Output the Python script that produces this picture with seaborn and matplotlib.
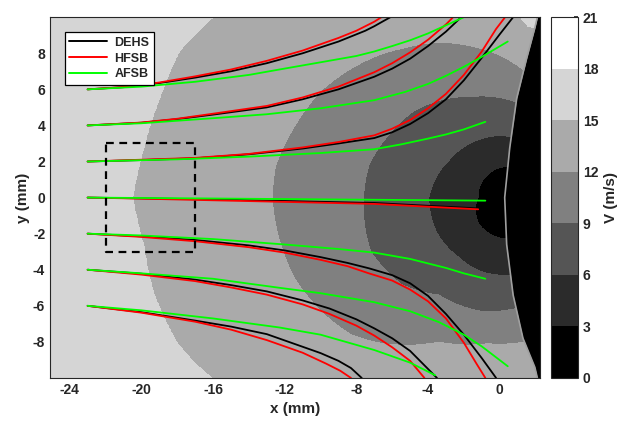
import numpy as np
import pandas as pd
import matplotlib
matplotlib.use("Agg")
import matplotlib.pyplot as plt
import seaborn as sns
from matplotlib.lines import Line2D

# ---------------- data ----------------
levels = [0, 3, 6, 9, 12, 15, 18, 21]
band_colors = ['#000000', '#2b2b2b', '#555555', '#808080', '#aaaaaa', '#d5d5d5', '#ffffff']
cbar_ticks = [0, 3, 6, 9, 12, 15, 18, 21]
x_ticks = [-24, -20, -16, -12, -8, -4, 0]
y_ticks = [-8, -6, -4, -2, 0, 2, 4, 6, 8]

# nose of the body (stagnation point)
nose = (0.3, 0.0)
# body front edge
edge_y = [-10.2, -9.4, -7.8, -5.4, -2.6, 0.0, 2.75, 5.5, 7.7, 9.4, 10.2]
edge_x = [2.15, 1.96, 1.3, 0.75, 0.39, 0.28, 0.56, 0.95, 1.5, 1.96, 2.15]

# contour boundaries (x, y) of V = 3, 6, 9, 12, 15 m/s
b3_x = [0.4, -0.15, -1.15, -1.2, -0.75, 0.2, 0.4]
b3_y = [-2.3, -2.2, -1.5, 0.0, 1.2, 1.7, 1.75]
b6_x = [0.6, -1.05, -2.3, -3.45, -3.95, -2.8, -1.2, 0.5]
b6_y = [-4.3, -4.1, -3.3, -2.05, 0.0, 2.1, 3.2, 3.4]
b9_x = [1.1, -1.05, -3.4, -5.5, -7.2, -7.6, -7.3, -6.0, -4.8, -1.6, 0.9]
b9_y = [-6.1, -6.3, -5.4, -4.8, -3.0, 0.0, 1.8, 3.7, 4.8, 5.6, 5.3]
b12_x = [1.4, -0.7, -3.4, -7.0, -8.3, -10.0, -11.5, -12.4, -12.7, -12.5, -11.6, -10.0, -7.0, -5.3, -3.4, -1.6, 0.2, 1.3]
b12_y = [-8.0, -8.1, -8.0, -8.0, -7.6, -6.3, -4.4, -2.0, 0.0, 1.8, 3.7, 5.9, 7.8, 8.3, 8.6, 8.4, 7.8, 7.1]
b15_x = [1.6, 0.0, -6.0, -13.5, -16.1, -17.1, -18.0, -19.3, -19.9, -20.5, -19.9, -19.0, -17.9, -17.0, -16.0, -13.5, -6.0, 0.0, 1.6]
b15_y = [-10.5, -11.0, -14.0, -12.0, -10.0, -9.1, -8.1, -5.4, -2.6, 0.0, 2.7, 5.5, 8.1, 9.1, 10.0, 12.0, 14.0, 11.0, 9.5]

# streamlines: DEHS (black), HFSB (red), AFSB (green)
dehs = {
    '6':  ([-23, -21, -19, -17, -15, -13, -11, -9, -8, -7.5, -7, -6.5, -6.1],
           [6.0, 6.12, 6.35, 6.65, 7.0, 7.45, 8.0, 8.65, 9.05, 9.25, 9.5, 9.78, 10.0]),
    '4':  ([-23, -20, -18, -16, -13, -11, -9, -7, -6, -5, -4, -3, -2.15],
           [4.0, 4.15, 4.35, 4.6, 5.0, 5.45, 6.0, 6.7, 7.15, 7.7, 8.4, 9.2, 10.0]),
    '2':  ([-23, -20, -17, -14, -11, -9, -7, -6, -5, -4, -3, -2, -1, 0, 0.75],
           [2.0, 2.08, 2.18, 2.4, 2.72, 3.0, 3.3, 3.62, 4.08, 4.68, 5.45, 6.5, 7.75, 9.05, 10.0]),
    '0':  ([-23, -16.0, -7.0, -1.2], [0.0, -0.1, -0.3, -0.6]),
    '-2': ([-23, -20, -17, -14, -12, -10, -8.5, -7.3, -6, -5, -4, -3, -2, -1, -0.2],
           [-2.0, -2.15, -2.35, -2.65, -2.93, -3.3, -3.62, -3.92, -4.3, -4.75, -5.45, -6.45, -7.6, -8.9, -10.0]),
    '-4': ([-23, -20, -17, -15, -13, -11, -9.5, -8, -7, -6, -5, -4.2, -3.5],
           [-4.0, -4.22, -4.55, -4.85, -5.2, -5.7, -6.15, -6.75, -7.25, -7.8, -8.5, -9.3, -10.0]),
    '-6': ([-23, -20, -17, -15, -13, -11, -10, -9, -8.3, -7.7],
           [-6.0, -6.35, -6.82, -7.15, -7.57, -8.27, -8.62, -9.05, -9.45, -10.0]),
}
hfsb = {
    '6':  ([-23, -21, -19, -17, -15, -13, -11, -9, -8, -7.5, -7, -6.6],
           [6.0, 6.13, 6.38, 6.72, 7.1, 7.58, 8.15, 8.85, 9.25, 9.5, 9.75, 10.0]),
    '4':  ([-23, -20, -18, -16, -13, -11, -9, -7, -6, -5, -4, -3, -2.6],
           [4.0, 4.16, 4.37, 4.65, 5.08, 5.55, 6.15, 6.95, 7.45, 8.05, 8.75, 9.6, 10.0]),
    '2':  ([-23, -20, -17, -14, -11, -9, -7, -6, -5, -4, -3, -2, -1, -0.2, 0.3],
           [2.0, 2.1, 2.2, 2.42, 2.78, 3.08, 3.45, 3.82, 4.3, 4.95, 5.75, 6.8, 8.1, 9.35, 10.0]),
    '0':  ([-23, -20.4, -16.0, -7.0, -1.2], [0.0, -0.05, -0.15, -0.35, -0.65]),
    '-2': ([-23, -20, -17, -14, -12, -10, -8.5, -7.3, -6, -5, -4, -3, -2, -1.3, -0.8],
           [-2.0, -2.18, -2.42, -2.75, -3.05, -3.45, -3.8, -4.2, -4.6, -5.1, -5.75, -6.7, -8.05, -9.2, -10.0]),
    '-4': ([-23, -20, -17, -15, -13, -11, -9.5, -8, -7, -6, -5, -4.2],
           [-4.0, -4.27, -4.63, -4.98, -5.38, -5.92, -6.45, -7.1, -7.65, -8.3, -9.05, -10.0]),
    '-6': ([-23, -20, -17, -15, -13, -11, -9.7, -8.9, -8.3],
           [-6.0, -6.38, -6.88, -7.32, -7.9, -8.6, -9.2, -9.6, -10.0]),
}
afsb = {
    '6':  ([-23, -20, -17, -14, -12.3, -10, -8, -7, -6, -5, -4, -3, -2.0],
           [6.0, 6.15, 6.42, 6.8, 7.1, 7.5, 7.85, 8.1, 8.4, 8.72, 9.1, 9.55, 10.0]),
    '4':  ([-23, -20, -16, -13, -10, -7, -5.3, -4, -3, -2, -1, 0.45],
           [4.0, 4.12, 4.4, 4.62, 4.95, 5.4, 5.85, 6.3, 6.75, 7.25, 7.8, 8.65]),
    '2':  ([-23, -18, -14, -10, -7, -5.5, -4, -3, -2, -0.8],
           [2.0, 2.12, 2.27, 2.47, 2.68, 2.95, 3.27, 3.5, 3.78, 4.2]),
    '0':  ([-23, -16.0, -7.0, -0.8], [0.0, -0.05, -0.12, -0.17]),
    '-2': ([-23, -20, -16, -12, -9, -7, -5, -4, -3, -2, -0.8],
           [-2.0, -2.1, -2.3, -2.6, -2.85, -3.05, -3.4, -3.65, -3.9, -4.2, -4.5]),
    '-4': ([-23, -20, -16, -12.3, -10, -7, -5, -3.4, -2, -1, 0.45],
           [-4.0, -4.2, -4.5, -5.0, -5.3, -5.8, -6.3, -6.9, -7.6, -8.25, -9.35]),
    '-6': ([-23, -20, -16, -12.3, -10, -7, -5, -3.6],
           [-6.0, -6.25, -6.7, -7.2, -7.6, -8.45, -9.15, -9.85]),
}
series_names = ['DEHS', 'HFSB', 'AFSB']
series_colors = ['#000000', '#ff0000', '#00ff00']

rect_x = [-22, -17, -17, -22, -22]
rect_y = [3, 3, -3, -3, 3]

# ---------------- build the velocity field from the boundaries ----------------
xg = np.linspace(-25.2, 2.3, 700)
yg = np.linspace(-10.1, 10.1, 520)
X, Y = np.meshgrid(xg, yg)
TH = np.degrees(np.arctan2(Y - nose[1], -(X - nose[0])))
R = np.hypot(X - nose[0], Y - nose[1])


def radius_at(bx, by, th):
    bx = np.asarray(bx, float); by = np.asarray(by, float)
    t = np.degrees(np.arctan2(by - nose[1], -(bx - nose[0])))
    r = np.hypot(bx - nose[0], by - nose[1])
    o = np.argsort(t)
    return np.interp(th, t[o], r[o])


radii = [np.zeros_like(R)] + [radius_at(bx, by, TH) for bx, by in
                              [(b3_x, b3_y), (b6_x, b6_y), (b9_x, b9_y), (b12_x, b12_y), (b15_x, b15_y)]]
V = np.full(R.shape, 16.5)
for i in range(4, -1, -1):
    m = R < radii[i + 1]
    V[m] = levels[i] + 3 * (R[m] - radii[i][m]) / (radii[i + 1][m] - radii[i][m])
V = np.clip(V, 0, 20.9)

# ---------------- plot ----------------
sns.set_theme(style="ticks")
plt.rcParams['font.family'] = ['Liberation Sans', 'DejaVu Sans']
plt.rcParams['font.weight'] = 'bold'
plt.rcParams['axes.labelweight'] = 'bold'
plt.rcParams['axes.unicode_minus'] = False

fig = plt.figure(figsize=(6.25, 4.3), dpi=100)
ax = fig.add_axes([0.08, 0.121, 0.784, 0.839])
cax = fig.add_axes([0.8816, 0.121, 0.0432, 0.839])

cs = ax.contourf(X, Y, V, levels=levels, colors=band_colors)
ax.fill_betweenx(edge_y, edge_x, 3.0, color='black', lw=0)
ax.plot(edge_x, edge_y, color='#a0a0a0', lw=1.2)

for name, color, d in zip(series_names, series_colors, [dehs, hfsb, afsb]):
    rows = []
    for k, (xs, ys) in d.items():
        for xv, yv in zip(xs, ys):
            rows.append((xv, yv, k))
    df = pd.DataFrame(rows, columns=['x', 'y', 'line'])
    sns.lineplot(data=df, x='x', y='y', units='line', estimator=None, sort=False,
                 color=color, lw=1.3, ax=ax, legend=False)

ax.plot(rect_x, rect_y, color='black', lw=1.6, linestyle=(0, (3.5, 2.5)))

ax.set_xlim(-25.1, 2.25)
ax.set_ylim(-10, 10)
ax.set_xticks(x_ticks)
ax.set_yticks(y_ticks)
ax.tick_params(direction='in', top=True, right=True, length=4, width=0.8,
               labelsize=10, colors='#262626')
for lab in ax.get_xticklabels() + ax.get_yticklabels():
    lab.set_fontweight('bold')
for s in ax.spines.values():
    s.set_color('#262626'); s.set_linewidth(0.8)
ax.set_xlabel('x (mm)', fontsize=11, fontweight='bold', labelpad=4)
ax.set_ylabel('y (mm)', fontsize=11, fontweight='bold', labelpad=2)

handles = [Line2D([0], [0], color=c, lw=1.4) for c in series_colors]
leg = ax.legend(handles, series_names, loc='upper left', bbox_to_anchor=(0.018, 0.975),
                frameon=True, fancybox=False, edgecolor='black', framealpha=1,
                handlelength=3.0, borderpad=0.35, labelspacing=0.3, handletextpad=0.6,
                prop={'weight': 'bold', 'size': 9})
leg.get_frame().set_linewidth(0.9)

cb = fig.colorbar(cs, cax=cax, ticks=cbar_ticks)
cb.ax.tick_params(labelsize=10, length=3, direction='in')
for lab in cb.ax.get_yticklabels():
    lab.set_fontweight('bold')
cb.set_label('V (m/s)', fontsize=11, fontweight='bold', labelpad=4)
cb.outline.set_linewidth(0.8)

fig.savefig('out.png', dpi=100)
